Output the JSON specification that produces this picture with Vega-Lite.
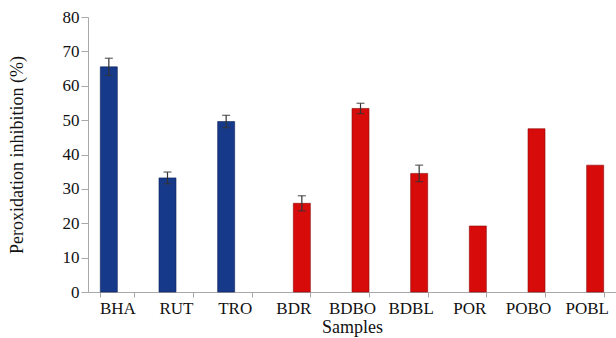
{
  "$schema": "https://vega.github.io/schema/vega-lite/v6.json",
  "width": 528,
  "height": 275,
  "autosize": {"type": "none"},
  "padding": {"left": 88, "top": 17, "right": 0, "bottom": 46},
  "background": "white",
  "config": {
    "view": {"stroke": null},
    "font": "Liberation Serif",
    "axis": {"labelFont": "Liberation Serif", "titleFont": "Liberation Serif", "labelColor": "#111", "titleColor": "#111", "titleFontWeight": "normal", "grid": false, "domainColor": "#a8a8a8", "tickColor": "#a8a8a8"}
  },
  "data": {
    "values": [
      {"sample": "BHA", "group": "Standard", "value": 65.5, "lo": 63.0, "hi": 68.0},
      {"sample": "RUT", "group": "Standard", "value": 33.2, "lo": 31.5, "hi": 34.9},
      {"sample": "TRO", "group": "Standard", "value": 49.6, "lo": 47.8, "hi": 51.4},
      {"sample": "BDR", "group": "Sample", "value": 25.8, "lo": 23.6, "hi": 28.0},
      {"sample": "BDBO", "group": "Sample", "value": 53.4, "lo": 51.9, "hi": 54.9},
      {"sample": "BDBL", "group": "Sample", "value": 34.5, "lo": 32.1, "hi": 36.9},
      {"sample": "POR", "group": "Sample", "value": 19.2, "lo": null, "hi": null},
      {"sample": "POBO", "group": "Sample", "value": 47.5, "lo": null, "hi": null},
      {"sample": "POBL", "group": "Sample", "value": 36.9, "lo": null, "hi": null}
    ]
  },
  "encoding": {
    "x": {
      "field": "sample", "type": "nominal", "sort": null,
      "scale": {"paddingInner": 0.42, "paddingOuter": 0.21},
      "axis": {"title": "Samples", "labelAngle": 0, "labelFontSize": 17, "titleFontSize": 18, "tickSize": 5, "labelPadding": 3, "titlePadding": 2, "tickBand": "extent"}
    },
    "xOffset": {"field": "group", "type": "nominal", "scale": {"domain": ["Standard", "Sample"]}},
    "y": {
      "field": "value", "type": "quantitative",
      "scale": {"domain": [0, 80], "nice": false},
      "axis": {"title": "Peroxidation inhibition (%)", "orient": "left", "values": [0, 10, 20, 30, 40, 50, 60, 70, 80], "labelOverlap": false, "labelFontSize": 17, "titleFontSize": 18, "tickSize": 7, "labelPadding": 2, "titlePadding": 36}
    }
  },
  "resolve": {"axis": {"y": "independent"}},
  "layer": [
    {
      "mark": {"type": "bar", "strokeWidth": 1, "strokeOpacity": 0.6},
      "encoding": {
        "color": {"field": "group", "type": "nominal", "scale": {"domain": ["Standard", "Sample"], "range": ["#17398a", "#d80b0b"]}, "legend": null},
        "stroke": {"field": "group", "type": "nominal", "scale": {"domain": ["Standard", "Sample"], "range": ["#0d2258", "#8e0606"]}, "legend": null}
      }
    },
    {
      "mark": {"type": "rule", "color": "#333", "strokeWidth": 1.2},
      "encoding": {
        "y": {"field": "lo", "type": "quantitative", "axis": null},
        "y2": {"field": "hi"}
      }
    },
    {
      "mark": {"type": "tick", "color": "#333", "size": 8, "thickness": 1.3},
      "encoding": {"y": {"field": "hi", "type": "quantitative", "axis": null}}
    },
    {
      "mark": {"type": "tick", "color": "#333", "size": 8, "thickness": 1.3},
      "encoding": {"y": {"field": "lo", "type": "quantitative", "axis": null}}
    }
  ]
}
